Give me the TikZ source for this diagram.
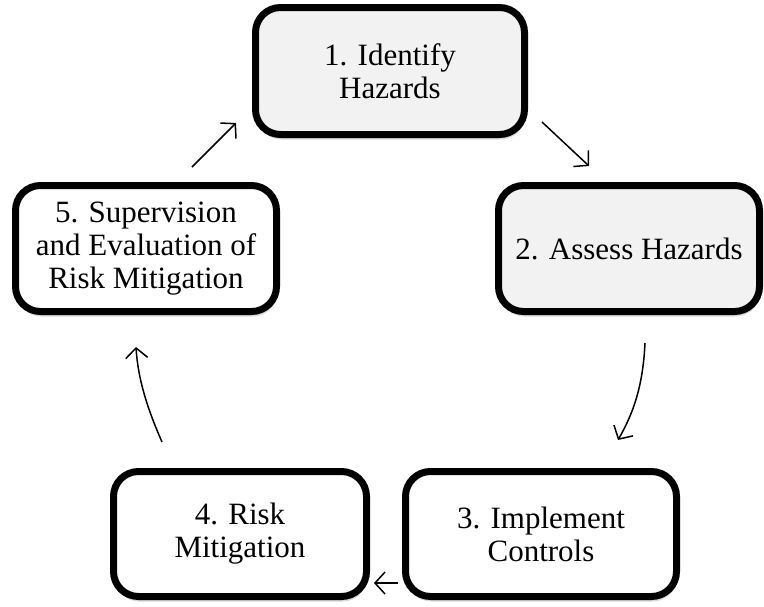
\documentclass[tikz,border=0pt]{standalone}
\usepackage{fontspec}
\setmainfont{Liberation Serif}
\usetikzlibrary{arrows.meta,shadows}
\definecolor{boxgray}{HTML}{F2F2F2}
\tikzset{
  stepbox/.style={draw=black, line width=7pt, rounded corners=25pt, fill=white,
    inner sep=0pt, align=center, font=\fontsize{31}{33}\selectfont,
    drop shadow={shadow xshift=1pt, shadow yshift=-5pt, opacity=0.25, fill=black!60}},
  graybox/.style={stepbox, fill=boxgray},
  flow/.style={line width=1.5pt, -{Straight Barb[length=10pt,width=22pt,line width=1.5pt]}}
}
\begin{document}
\begin{tikzpicture}[x=1pt,y=-1pt]
\useasboundingbox (0,0) rectangle (764,606);
\node[graybox, minimum width=269pt, minimum height=127pt] (b1) at (390,71) {1. Identify\\Hazards};
\node[graybox, minimum width=261pt, minimum height=126pt] (b2) at (629,248.5) {2. Assess Hazards};
\node[stepbox, minimum width=271pt, minimum height=125pt] (b3) at (541,534) {3. Implement\\Controls};
\node[stepbox, minimum width=253pt, minimum height=125pt] (b4) at (240,534) {4. Risk\\Mitigation};
\node[stepbox, minimum width=261pt, minimum height=126pt] (b5) at (146,248.5) {5. Supervision\\and Evaluation of\\Risk Mitigation};
\coordinate (a1s) at (542,122);
\coordinate (a1e) at (589,166);
\coordinate (a2s) at (645,343);
\coordinate (a2e) at (618,440);
\coordinate (a3s) at (398,583);
\coordinate (a3e) at (374,583);
\coordinate (a4s) at (162,442);
\coordinate (a4e) at (136,347);
\coordinate (a5s) at (192,167);
\coordinate (a5e) at (236,123);
\draw[flow] (a1s) -- (a1e);
\draw[flow] (a2s) .. controls (643,385) and (634,412) .. (a2e);
\draw[flow] (a3s) -- (a3e);
\draw[flow] (a4s) .. controls (148,410) and (138,380) .. (a4e);
\draw[flow] (a5s) -- (a5e);
\end{tikzpicture}
\end{document}
